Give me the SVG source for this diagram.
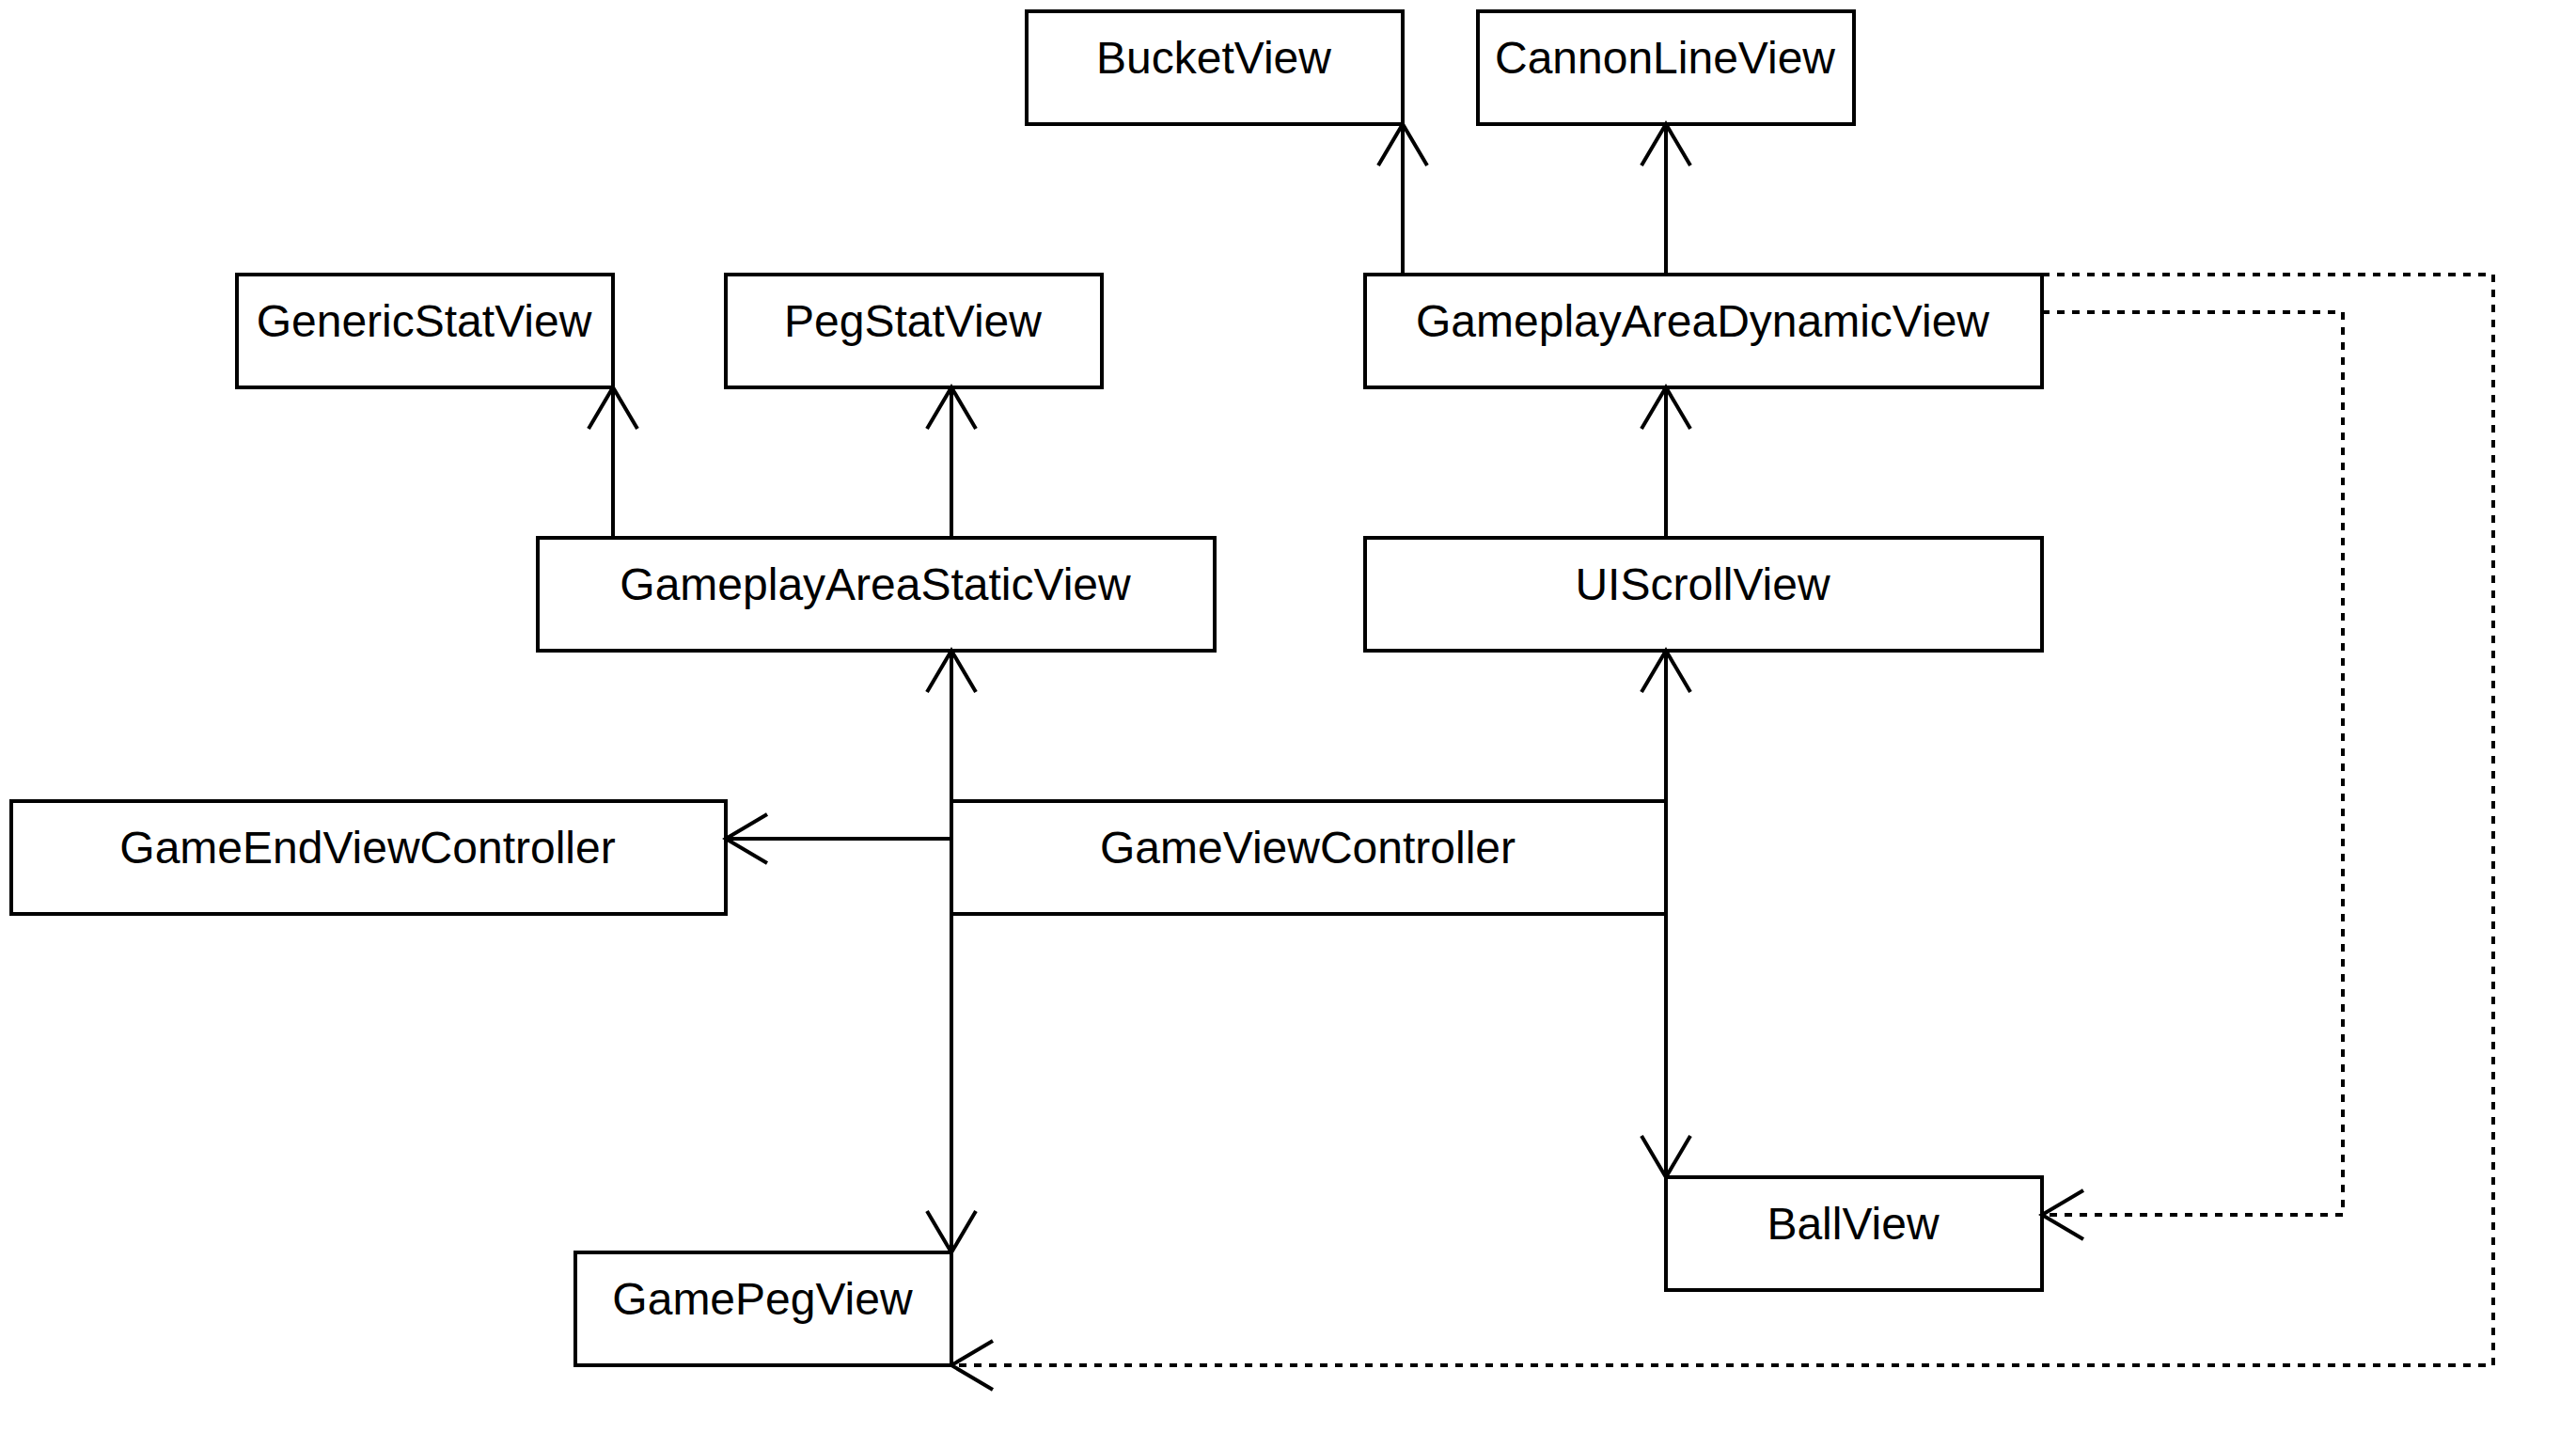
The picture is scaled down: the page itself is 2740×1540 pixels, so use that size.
<svg xmlns="http://www.w3.org/2000/svg" width="2740" height="1540" viewBox="0 0 2740 1540">
<style>
.box{fill:#fff;stroke:#000;stroke-width:4}
.lbl{font-family:"Liberation Sans",Arial,sans-serif;font-size:48px;fill:#000;text-anchor:middle}
.c{fill:none;stroke:#000;stroke-width:4}
.d{fill:none;stroke:#000;stroke-width:4;stroke-dasharray:8 8}
</style>
<defs>
<marker id="open" viewBox="-50 -30 56 60" markerWidth="56" markerHeight="60" refX="0" refY="0" orient="auto" markerUnits="userSpaceOnUse">
<path d="M-44,-26 L0,0 L-44,26" fill="none" stroke="#000" stroke-width="4" stroke-dasharray="none"/>
</marker>
</defs>
<rect width="2740" height="1540" fill="#fff"/>
<g id="BucketView"><rect class="box" x="1092" y="12" width="400" height="120"/><text class="lbl" x="1291" y="78">BucketView</text></g>
<g id="CannonLineView"><rect class="box" x="1572" y="12" width="400" height="120"/><text class="lbl" x="1771" y="78">CannonLineView</text></g>
<g id="GenericStatView"><rect class="box" x="252" y="292" width="400" height="120"/><text class="lbl" x="451" y="358">GenericStatView</text></g>
<g id="PegStatView"><rect class="box" x="772" y="292" width="400" height="120"/><text class="lbl" x="971" y="358">PegStatView</text></g>
<g id="GameplayAreaDynamicView"><rect class="box" x="1452" y="292" width="720" height="120"/><text class="lbl" x="1811" y="358">GameplayAreaDynamicView</text></g>
<g id="GameplayAreaStaticView"><rect class="box" x="572" y="572" width="720" height="120"/><text class="lbl" x="931" y="638">GameplayAreaStaticView</text></g>
<g id="UIScrollView"><rect class="box" x="1452" y="572" width="720" height="120"/><text class="lbl" x="1811" y="638">UIScrollView</text></g>
<g id="GameEndViewController"><rect class="box" x="12" y="852" width="760" height="120"/><text class="lbl" x="391" y="918">GameEndViewController</text></g>
<g id="GameViewController"><rect class="box" x="1012" y="852" width="760" height="120"/><text class="lbl" x="1391" y="918">GameViewController</text></g>
<g id="BallView"><rect class="box" x="1772" y="1252" width="400" height="120"/><text class="lbl" x="1971" y="1318">BallView</text></g>
<g id="GamePegView"><rect class="box" x="612" y="1332" width="400" height="120"/><text class="lbl" x="811" y="1398">GamePegView</text></g>
<g id="connectors">
<path class="c" d="M1492,292 L1492,132" marker-end="url(#open)"/>
<path class="c" d="M1772,292 L1772,132" marker-end="url(#open)"/>
<path class="c" d="M652,572 L652,412" marker-end="url(#open)"/>
<path class="c" d="M1012,572 L1012,412" marker-end="url(#open)"/>
<path class="c" d="M1772,572 L1772,412" marker-end="url(#open)"/>
<path class="c" d="M1012,852 L1012,692" marker-end="url(#open)"/>
<path class="c" d="M1772,852 L1772,692" marker-end="url(#open)"/>
<path class="c" d="M1012,892 L772,892" marker-end="url(#open)"/>
<path class="c" d="M1012,972 L1012,1332" marker-end="url(#open)"/>
<path class="c" d="M1772,972 L1772,1252" marker-end="url(#open)"/>
<path class="d" d="M2172,332 L2492,332 L2492,1292 L2172,1292" marker-end="url(#open)"/>
<path class="d" d="M2172,292 L2652,292 L2652,1452 L1012,1452" marker-end="url(#open)"/>
</g>
</svg>
